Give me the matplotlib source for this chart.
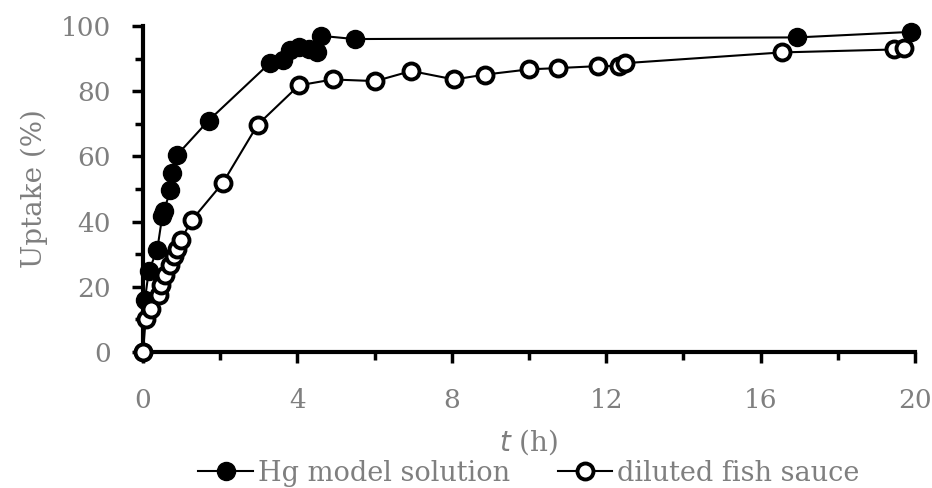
import matplotlib.pyplot as plt
from matplotlib.ticker import MultipleLocator

# Uptake kinetics
t_hg = [0, 0.05, 0.15, 0.37, 0.5, 0.54, 0.71, 0.75, 0.88, 1.7, 3.3, 3.62, 3.8,
        4.05, 4.3, 4.52, 4.6, 5.48, 16.95, 19.9]
uptake_hg = [0, 16.0, 24.8, 31.4, 41.7, 43.2, 49.6, 55.0, 60.4, 71.0, 88.8, 89.6,
             92.6, 93.6, 93.0, 92.1, 97.0, 96.0, 96.5, 98.2]

t_fish = [0, 0.07, 0.21, 0.41, 0.47, 0.58, 0.71, 0.8, 0.88, 0.99, 1.26, 2.07,
          2.97, 4.04, 4.92, 6.02, 6.95, 8.06, 8.86, 10.0, 10.76, 11.8, 12.32,
          12.48, 16.55, 19.46, 19.72]
uptake_fish = [0, 10.0, 13.2, 17.5, 20.4, 23.7, 26.8, 29.3, 31.7, 34.5, 40.4,
               51.9, 69.7, 81.8, 83.6, 83.1, 86.2, 83.6, 85.1, 86.7, 87.1, 87.7,
               87.7, 88.6, 91.9, 92.8, 93.4]

labels = ["Hg model solution", "diluted fish sauce"]

plt.rcParams["font.family"] = ["DejaVu Serif"]
GREY = "#7f7f7f"

fig = plt.figure(figsize=(9.32, 4.88), dpi=100)
ax = fig.add_axes([0.1534, 0.2787, 0.8284, 0.668])

ax.plot(t_hg, uptake_hg, "-o", color="black", lw=1.5, ms=13,
        mfc="black", mec="black", mew=1, label=labels[0], clip_on=False, zorder=3)
ax.plot(t_fish, uptake_fish, "-o", color="black", lw=1.5, ms=11.5,
        mfc="white", mec="black", mew=2.8, label=labels[1], clip_on=False, zorder=4)

ax.set_xlim(0, 20)
ax.set_ylim(0, 100)
ax.xaxis.set_major_locator(MultipleLocator(4))
ax.xaxis.set_minor_locator(MultipleLocator(2))
ax.yaxis.set_major_locator(MultipleLocator(20))
ax.yaxis.set_minor_locator(MultipleLocator(10))

for side in ["top", "right"]:
    ax.spines[side].set_visible(False)
for side in ["left", "bottom"]:
    ax.spines[side].set_linewidth(3)

ax.tick_params(which="major", length=8, width=2.5, labelsize=19, labelcolor=GREY)
ax.tick_params(which="minor", length=6, width=2.5)
ax.tick_params(axis="x", pad=18)
ax.tick_params(axis="y", pad=15)

ax.set_xlabel("$t$ (h)", fontsize=20, color=GREY)
ax.set_ylabel("Uptake (%)", fontsize=20, color=GREY)
ax.xaxis.set_label_coords(0.5, -0.232)
ax.yaxis.set_label_coords(-0.123, 0.5)

ax.legend(loc="center", bbox_to_anchor=(0.5, -0.372), ncol=2, frameon=False,
          fontsize=19.5, labelcolor=GREY, handlelength=2.0, handletextpad=0.2,
          columnspacing=1.75, borderaxespad=0, borderpad=0)

fig.savefig("out.png", dpi=100)
